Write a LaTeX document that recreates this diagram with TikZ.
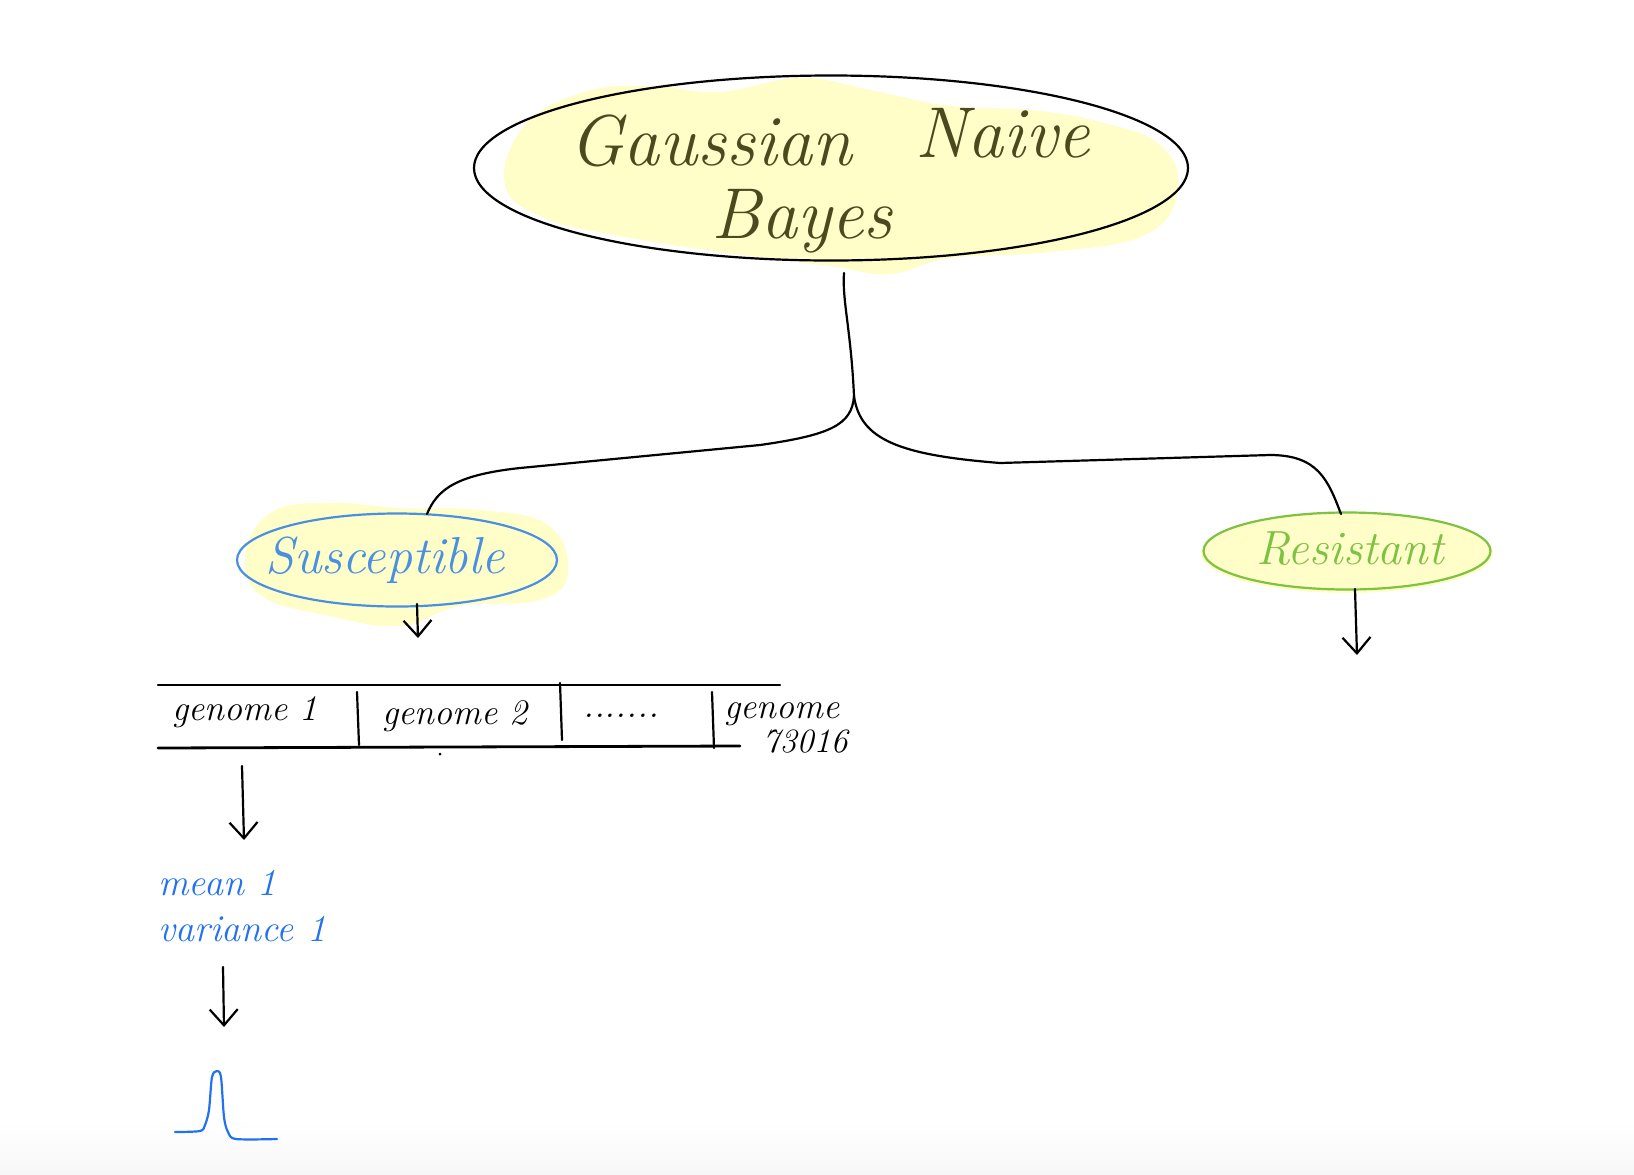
\documentclass[tikz,border=0pt]{standalone}
\usetikzlibrary{shapes.geometric,arrows.meta}
\definecolor{hlyellow}{HTML}{FFFDC8}
\definecolor{inkolive}{HTML}{4A4A1E}
\definecolor{susblue}{HTML}{4A90E2}
\definecolor{resgreen}{HTML}{7DC242}
\definecolor{penblue}{HTML}{2272F0}
\begin{document}
\begin{tikzpicture}[x=0.5pt,y=-0.5pt,
  hand/.style={font=\itshape, inner sep=0pt},
  pen/.style={line width=1.1pt, line cap=round, line join=round},
  arr/.style={pen, -{Straight Barb[length=8pt,width=14pt,line width=1.1pt]}},
  blob/.style={fill=hlyellow, draw=none}]
\useasboundingbox (0,0) rectangle (1634,1174);
\fill[white] (0,0) rectangle (1634,1174);
\shade[top color=white, bottom color=black!3] (0,1120) rectangle (1634,1174);

% highlight blobs
\fill[blob] plot[smooth cycle, tension=0.7] coordinates {(505,185) (525,125) (585,92) (650,86) (720,92) (800,78) (870,90) (950,106) (1030,110) (1100,122) (1160,145) (1178,190) (1145,235) (1050,252) (950,258) (890,274) (830,266) (720,252) (620,236) (545,218)};
\fill[blob] plot[smooth cycle, tension=0.7] coordinates {(245,555) (272,512) (330,503) (400,508) (480,510) (548,525) (568,572) (540,600) (460,606) (400,626) (330,616) (262,596)};
\fill[blob] (1347,553) ellipse[x radius=146, y radius=40];

% nodes
\node[ellipse, draw=black, pen, minimum width=357pt, minimum height=92.5pt] (main) at (831,168) {};
\node[hand, text=inkolive, font=\fontsize{36}{40}\selectfont\itshape] (gauss) at (711,141) {Gaussian};
\node[hand, text=inkolive, font=\fontsize{36}{40}\selectfont\itshape] (naive) at (1003,133) {Naive};
\node[hand, text=inkolive, font=\fontsize{36}{40}\selectfont\itshape] (bayes) at (802,221) {Bayes};

\node[ellipse, draw=susblue, pen, inner sep=0pt, minimum width=160pt, minimum height=46.5pt] (sus) at (397,560) {};
\node[hand, text=susblue, font=\fontsize{26}{28}\selectfont\itshape] (suslabel) at (385,560) {Susceptible};
\node[ellipse, draw=resgreen, pen, inner sep=0pt, minimum width=143.5pt, minimum height=38.5pt] (res) at (1347,551) {};
\node[hand, text=resgreen, font=\fontsize{24}{27}\selectfont\itshape] (reslabel) at (1350,549) {Resistant};

% tree connectors
\coordinate (stemtop) at (844,273);
\coordinate (split) at (854,396);
\coordinate (susin) at (427,514);
\coordinate (resin) at (1341,514);
\draw[pen] (stemtop) .. controls (842,300) and (851,330) .. (split);
\draw[pen] (split) .. controls (852,425) and (830,435) .. (760,445) -- (520,468) .. controls (455,475) and (437,490) .. (susin);
\draw[pen] (split) .. controls (860,440) and (900,455) .. (1000,463) -- (1270,455) .. controls (1318,455) and (1328,480) .. (resin);

% arrows below classes
\coordinate (susout) at (417,604);
\coordinate (susend) at (418,638);
\coordinate (resout) at (1355,589);
\coordinate (resend) at (1357,655);
\draw[arr] (susout) -- (susend);
\draw[arr] (resout) -- (resend);

% table
\coordinate (tl) at (158,685);
\coordinate (tr) at (780,685);
\coordinate (bl) at (158,748);
\coordinate (br) at (740,746);
\draw[pen] (tl) -- (tr);
\draw[pen, line width=1.4pt] (bl) -- (br);
\draw[pen] (357,692) -- (359,745);
\draw[pen] (560,683) -- (562,740);
\draw[pen] (712,692) -- (714,748);
\fill (440,754) circle[radius=1.5];

\node[hand, font=\fontsize{18}{20}\selectfont\itshape] (g1) at (245,712) {genome 1};
\node[hand, font=\fontsize{18}{20}\selectfont\itshape] (g2) at (455,716) {genome 2};
\node[hand, font=\fontsize{18}{20}\selectfont\itshape] (gdots) at (621,716) {.......};
\node[hand, font=\fontsize{18}{20}\selectfont\itshape] (gn) at (782,714) {genome};
\node[hand, font=\fontsize{17}{20}\selectfont\itshape] (gnum) at (805,742) {73016};

% stats
\coordinate (tabout) at (242,766);
\coordinate (tabend) at (244,840);
\draw[arr] (tabout) -- (tabend);
\node[hand, anchor=west, text=penblue, font=\fontsize{19}{22}\selectfont\itshape] (mean) at (158,883) {mean 1};
\node[hand, anchor=west, text=penblue, font=\fontsize{19}{22}\selectfont\itshape] (var) at (158,929) {variance 1};
\coordinate (varout) at (223,967);
\coordinate (varend) at (224,1027);
\draw[arr] (varout) -- (varend);

% gaussian curve
\draw[pen, draw=penblue] plot[smooth, tension=0.5] coordinates {(175,1132) (200,1131) (205,1125) (209,1110) (212,1077) (217,1071) (221,1077) (224,1117) (228,1132) (236,1139) (277,1139)};
\end{tikzpicture}
\end{document}
